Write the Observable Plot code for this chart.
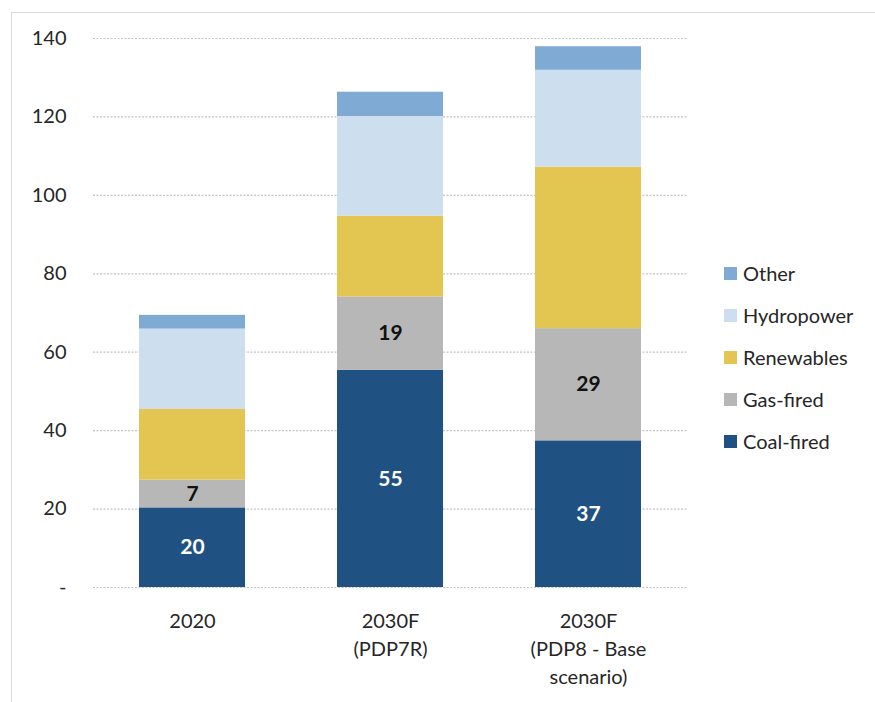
<!DOCTYPE html>
<html>
<head>
<meta charset="utf-8">
<script src="https://cdn.jsdelivr.net/npm/d3@7"></script>
<script src="https://cdn.jsdelivr.net/npm/@observablehq/plot@0.6"></script>
<style>
  html, body { margin: 0; padding: 0; background: #fff; }
  #wrap { position: relative; width: 875px; height: 702px; overflow: hidden; font-family: Lato, "Open Sans", sans-serif; }
  #frame { position: absolute; left: 11px; top: 12px; width: 900px; height: 720px; border-left: 1.5px solid #d9d9d9; border-top: 1.5px solid #d9d9d9; }
  #chart { position: absolute; left: 0; top: 0; }
  #legend { position: absolute; left: 724px; top: 0; }
  .item { position: absolute; left: 0; display: flex; align-items: center; white-space: nowrap; font-size: 20px; color: #262626; }
  .sw { width: 13px; height: 13px; margin-right: 6px; flex: none; }
</style>
</head>
<body>
<div id="wrap">
  <div id="frame"></div>
  <div id="chart"></div>
  <div id="legend"></div>
</div>
<script>
// Categories (x axis)
const categories = ["2020", "2030F\n(PDP7R)", "2030F\n(PDP8 - Base\nscenario)"];
// Series (stack order bottom -> top)
const sources = ["Coal-fired", "Gas-fired", "Renewables", "Hydropower", "Other"];
const colors = ["#1f5283", "#b7b7b7", "#e3c552", "#cddfee", "#7eaad3"];
// Values per series (GW), one per category
const coal = [20.3, 55.4, 37.4];
const gas = [7.1, 18.7, 28.6];
const renewables = [18.0, 20.6, 41.2];
const hydro = [20.5, 25.4, 24.7];
const other = [3.5, 6.2, 6.0];
// y tick values
const yTicks = [0, 20, 40, 60, 80, 100, 120, 140];

const seriesValues = [coal, gas, renewables, hydro, other];
const data = [];
categories.forEach((c, i) => {
  sources.forEach((s, j) => data.push({cat: c, source: s, value: seriesValues[j][i]}));
});

const chart = Plot.plot({
  width: 875,
  height: 700,
  marginLeft: 93,
  marginRight: 188,
  marginTop: 38,
  marginBottom: 113,
  style: {fontFamily: "Lato, 'Open Sans', sans-serif", fontSize: "20px", color: "#262626", background: "transparent"},
  x: {domain: categories, paddingInner: 0.464, paddingOuter: 0.232, label: null},
  y: {domain: [0, 140], label: null},
  color: {domain: sources, range: colors},
  marks: [
    Plot.gridY(yTicks, {stroke: "#c4c4c4", strokeOpacity: 1, strokeDasharray: "2,1.5", strokeWidth: 1.2}),
    Plot.barY(data, {x: "cat", y: "value", fill: "source", z: "source"}),
    Plot.text(data, Plot.stackY({x: "cat", y: "value", z: "source",
      text: d => d.source === "Coal-fired" ? String(Math.round(d.value)) : "",
      fill: "white", fontWeight: "bold", fontSize: 21})),
    Plot.text(data, Plot.stackY({x: "cat", y: "value", z: "source",
      text: d => d.source === "Gas-fired" ? String(Math.round(d.value)) : "",
      fill: "#111", fontWeight: "bold", fontSize: 21})),
    Plot.axisY({ticks: yTicks, tickSize: 0, tickPadding: 27, tickFormat: d => d === 0 ? "-" : String(d), label: null, fill: "#262626"}),
    Plot.axisX({tickSize: 0, tickPadding: 20, lineHeight: 1.42, label: null, fill: "#262626"})
  ]
});
document.getElementById("chart").appendChild(chart);

// Legend (top -> bottom: reverse of stack order)
const legend = document.getElementById("legend");
const legendRowsY = [273, 315, 357, 399, 441];
sources.slice().reverse().forEach((s, k) => {
  const idx = sources.indexOf(s);
  const item = document.createElement("div");
  item.className = "item";
  item.style.top = (legendRowsY[k] - 13) + "px";
  item.style.height = "26px";
  const sw = document.createElement("span");
  sw.className = "sw";
  sw.style.background = colors[idx];
  const t = document.createElement("span");
  t.textContent = s;
  item.appendChild(sw);
  item.appendChild(t);
  legend.appendChild(item);
});
</script>
</body>
</html>
